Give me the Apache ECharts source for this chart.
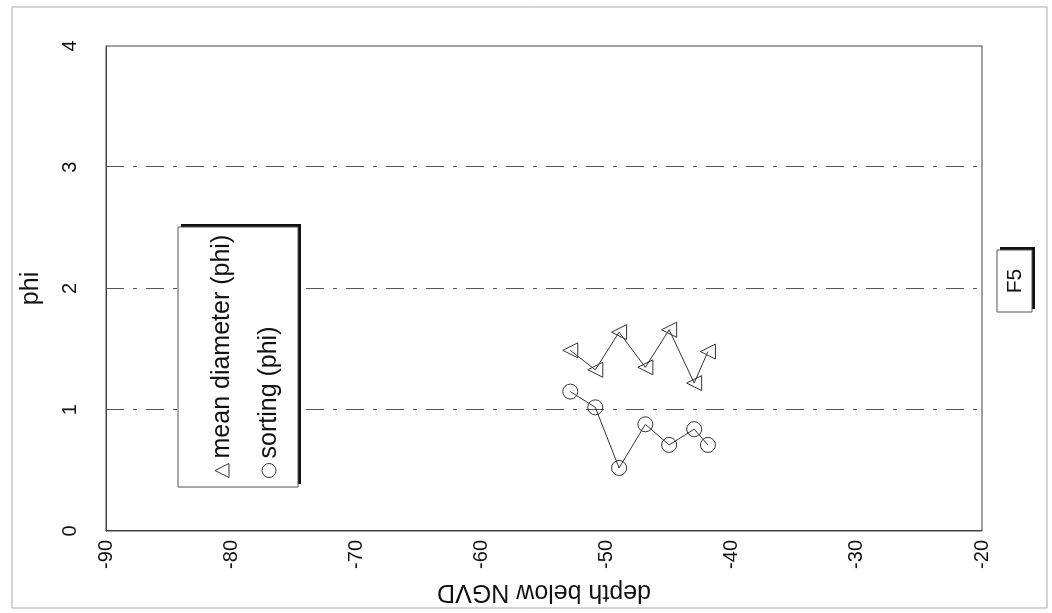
<!DOCTYPE html>
<html>
<head>
<meta charset="utf-8">
<script src="https://cdn.jsdelivr.net/npm/echarts@6/dist/echarts.min.js"></script>
<style>
html, body { margin: 0; padding: 0; background: #fff; overflow: hidden; width: 1052px; height: 613px; }
/* the chart is drawn upright (portrait) and turned a quarter to the left like the scan */
#chart { position: absolute; left: 0; top: 0; width: 613px; height: 1052px;
         transform-origin: 0 0; transform: translate(0, 613px) rotate(-90deg); }
</style>
</head>
<body>
<div id="chart"></div>
<script>
// depth below NGVD of each sample
var depth = [-52.9, -50.9, -49.0, -46.9, -45.0, -43.0, -41.9];
var meanDiameter = [1.49, 1.33, 1.64, 1.35, 1.66, 1.22, 1.48];
var sorting = [1.15, 1.02, 0.52, 0.88, 0.71, 0.84, 0.71];
var seriesNames = ["mean diameter (phi)", "sorting (phi)"];
var wellLabel = "F5";

var FONT = "Liberation Sans, Arial, sans-serif";
var INK = "#333";

function pairs(values) {
    var out = [];
    for (var i = 0; i < depth.length; i++) {
        out.push([values[i], depth[i]]);
    }
    return out;
}

var hollow = { color: "rgba(0,0,0,0)", borderColor: INK, borderWidth: 1 };

var chart = echarts.init(document.getElementById("chart"));
var option = {
    backgroundColor: "#fff",
    animation: false,
    grid: {
        left: 82, right: 46, top: 106, bottom: 70,
        containLabel: false,
        show: true, borderColor: "#444", borderWidth: 1
    },
    xAxis: {
        type: "value",
        position: "top",
        min: 0, max: 4, interval: 1,
        name: "phi",
        nameLocation: "middle",
        nameGap: 62,
        nameMoveOverlap: false,
        nameTextStyle: { fontSize: 25, fontFamily: FONT, color: "#111" },
        axisLine: { show: true, lineStyle: { color: "#444", width: 1 } },
        axisTick: { show: false },
        axisLabel: { margin: 26, fontSize: 20, fontFamily: FONT, color: "#111" },
        splitLine: { show: true, showMinLine: false, showMaxLine: false,
                     lineStyle: { color: "#555", width: 1, type: [18, 9, 4, 9] } }
    },
    yAxis: {
        type: "value",
        inverse: true,
        min: -90, max: -20, interval: 10,
        name: "depth below NGVD",
        nameLocation: "middle",
        nameGap: 48,
        nameMoveOverlap: false,
        nameTextStyle: { fontSize: 25, fontFamily: FONT, color: "#111" },
        axisLine: { show: true, lineStyle: { color: "#444", width: 1 } },
        axisTick: { show: false },
        axisLabel: { margin: 9, fontSize: 20, fontFamily: FONT, color: "#111" },
        splitLine: { show: false }
    },
    legend: {
        orient: "vertical",
        left: 130, top: 204,
        z: 10,
        itemWidth: 14, itemHeight: 14, itemGap: 21,
        textStyle: { fontSize: 25, lineHeight: 26, fontFamily: FONT, color: "#111" },
        data: [
            { name: seriesNames[0], icon: "triangle", itemStyle: hollow },
            { name: seriesNames[1], icon: "circle", itemStyle: hollow }
        ]
    },
    graphic: [
        // scan frame
        { type: "rect", z: 0, shape: { x: 5, y: 12, width: 601, height: 1035 },
          style: { fill: null, stroke: "#aaa", lineWidth: 1 } },
        // legend box with shadow
        { type: "rect", z: 1, shape: { x: 129, y: 181, width: 260, height: 120 },
          style: { fill: "#111" } },
        { type: "rect", z: 2, shape: { x: 126, y: 178, width: 260, height: 120 },
          style: { fill: "#fff", stroke: "#555", lineWidth: 1 } },
        // well label box
        { type: "rect", z: 1, shape: { x: 304, y: 1000, width: 62, height: 35 },
          style: { fill: "#111" } },
        { type: "rect", z: 2, shape: { x: 301, y: 997, width: 62, height: 35 },
          style: { fill: "#fff", stroke: "#555", lineWidth: 1 } },
        { type: "text", z: 3, x: 332, y: 1015,
          style: { text: wellLabel, fontSize: 21, fontFamily: FONT, fill: "#111",
                   align: "center", verticalAlign: "middle" } }
    ],
    series: [
        {
            name: seriesNames[0],
            type: "line",
            symbol: "triangle",
            symbolSize: 15,
            itemStyle: hollow,
            lineStyle: { color: INK, width: 1 },
            data: pairs(meanDiameter)
        },
        {
            name: seriesNames[1],
            type: "line",
            symbol: "circle",
            symbolSize: 15,
            itemStyle: hollow,
            lineStyle: { color: INK, width: 1 },
            data: pairs(sorting)
        }
    ]
};
chart.setOption(option);
</script>
</body>
</html>
